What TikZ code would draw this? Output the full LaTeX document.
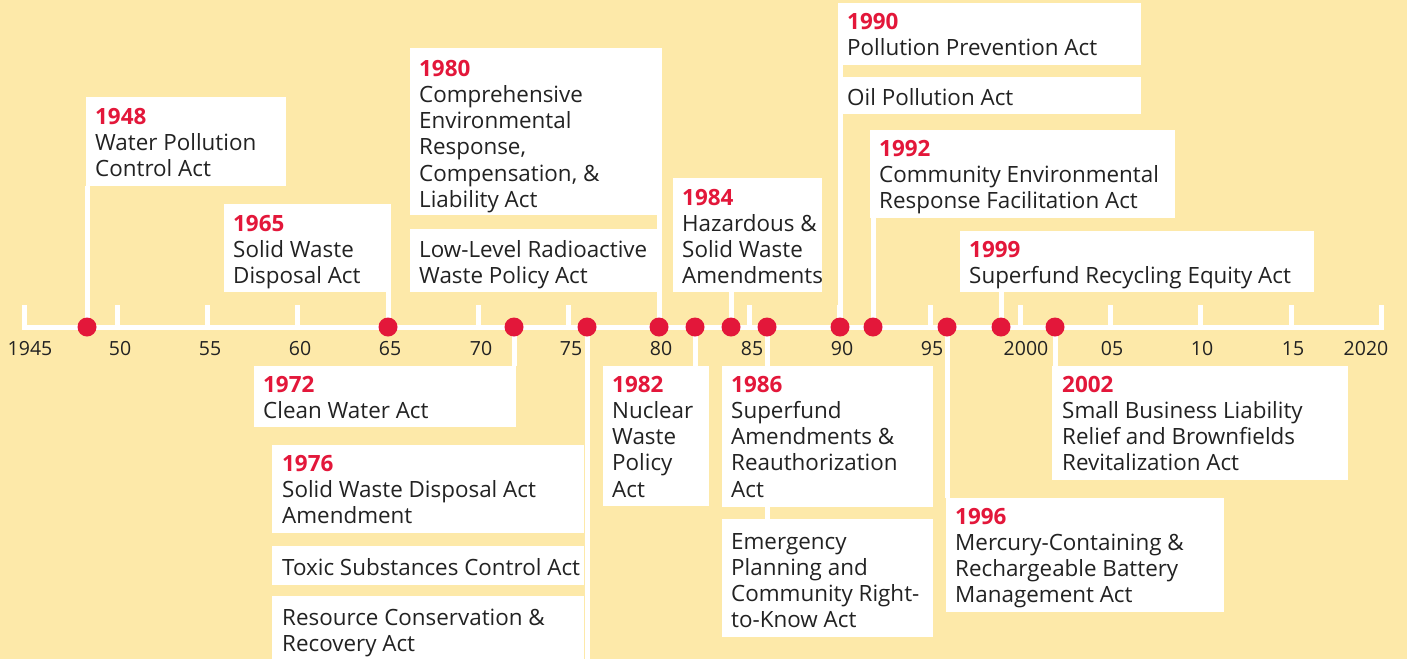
\documentclass[tikz,border=0pt]{standalone}
\usepackage{fontspec}
\setmainfont{Open Sans}
\usetikzlibrary{calc}
\definecolor{bgyel}{HTML}{FDE9A9}
\definecolor{evred}{HTML}{E3173A}
\definecolor{txtc}{HTML}{222222}
\newcommand\yr[1]{{\color{evred}\bfseries #1}}
\newcommand\lns[1]{\parbox[t]{380pt}{\raggedright\leavevmode #1}}
\pgfdeclarelayer{bglayer}
\pgfdeclarelayer{linelayer}
\pgfsetlayers{bglayer,linelayer,main}
\tikzset{
  wbox/.style={fill=white, draw=none, inner sep=0, anchor=north west},
  txt/.style={inner sep=0, anchor=base west, text=txtc, font=\fontsize{22.4}{26.3}\selectfont},
  dot/.style={circle, fill=evred, minimum size=19pt, inner sep=0},
  conn/.style={white, line width=5pt},
  axisln/.style={white, line width=5pt},
  tlab/.style={inner sep=0, text=txtc, font=\fontsize{19.5}{21}\selectfont},
}
\begin{document}
\begin{tikzpicture}[x=1pt,y=-1pt]
\begin{pgfonlayer}{bglayer}
\fill[bgyel] (0,0) rectangle (1407,659);
\end{pgfonlayer}
\useasboundingbox (0,0) rectangle (1407,659);

% boxes
\node[wbox, minimum width=200pt, minimum height=89pt] (b1948) at (86,97) {};
\node[wbox, minimum width=167pt, minimum height=88pt] (b1965) at (224,204) {};
\node[wbox, minimum width=252pt, minimum height=167pt] (b1980) at (410,48) {};
\node[wbox, minimum width=252pt, minimum height=63pt] (bllr) at (410,229) {};
\node[wbox, minimum width=149pt, minimum height=114pt] (b1984) at (673,178) {};
\node[wbox, minimum width=303pt, minimum height=62pt] (b1990) at (838,3) {};
\node[wbox, minimum width=303pt, minimum height=37pt] (boil) at (838,77) {};
\node[wbox, minimum width=305pt, minimum height=88pt] (b1992) at (870,130) {};
\node[wbox, minimum width=354pt, minimum height=61pt] (b1999) at (960,231) {};
\node[wbox, minimum width=262pt, minimum height=61pt] (b1972) at (254,366) {};
\node[wbox, minimum width=312pt, minimum height=88pt] (b1976) at (272,445) {};
\node[wbox, minimum width=312pt, minimum height=39pt] (btox) at (272,546) {};
\node[wbox, minimum width=312pt, minimum height=80pt] (bres) at (272,596) {};
\node[wbox, minimum width=106pt, minimum height=140pt] (b1982) at (603,366) {};
\node[wbox, minimum width=211pt, minimum height=141pt] (b1986) at (722,366) {};
\node[wbox, minimum width=211pt, minimum height=118pt] (beme) at (722,519) {};
\node[wbox, minimum width=278pt, minimum height=114pt] (b1996) at (946,498) {};
\node[wbox, minimum width=296pt, minimum height=114pt] (b2002) at (1052,366) {};

% texts
\node[txt] (t1948) at (95,124) {\lns{\yr{1948}\\Water Pollution\\Control Act}};
\node[txt] (t1965) at (233,231) {\lns{\yr{1965}\\Solid Waste\\Disposal Act}};
\node[txt] (t1980) at (419,76) {\lns{\yr{1980}\\Comprehensive\\Environmental\\Response,\\Compensation, \&\\Liability Act}};
\node[txt] (tllr) at (419,257) {\lns{Low-Level Radioactive\\Waste Policy Act}};
\node[txt] (t1984) at (682,205) {\lns{\yr{1984}\\Hazardous \&\\Solid Waste\\Amendments}};
\node[txt] (t1990) at (847,29) {\lns{\yr{1990}\\Pollution Prevention Act}};
\node[txt] (toil) at (847,105) {\lns{Oil Pollution Act}};
\node[txt] (t1992) at (879,156) {\lns{\yr{1992}\\Community Environmental\\Response Facilitation Act}};
\node[txt] (t1999) at (969,257) {\lns{\yr{1999}\\Superfund Recycling Equity Act}};
\node[txt] (t1972) at (263,392) {\lns{\yr{1972}\\Clean Water Act}};
\node[txt] (t1976) at (282,471) {\lns{\yr{1976}\\Solid Waste Disposal Act\\Amendment}};
\node[txt] (ttox) at (282,575) {\lns{Toxic Substances Control Act}};
\node[txt] (tres) at (282,625) {\lns{Resource Conservation \&\\Recovery Act}};
\node[txt] (t1982) at (612,392) {\lns{\yr{1982}\\Nuclear\\Waste\\Policy\\Act}};
\node[txt] (t1986) at (731,392) {\lns{\yr{1986}\\Superfund\\Amendments \&\\Reauthorization\\Act}};
\node[txt] (teme) at (731,549) {\lns{Emergency\\Planning and\\Community Right-\\to-Know Act}};
\node[txt] (t1996) at (955,524) {\lns{\yr{1996}\\Mercury-Containing \&\\Rechargeable Battery\\Management Act}};
\node[txt] (t2002) at (1062,392) {\lns{\yr{2002}\\Small Business Liability\\Relief and Brownfields\\Revitalization Act}};

% axis
\begin{pgfonlayer}{linelayer}
\draw[axisln] (22,327) -- (1383.5,327);
\foreach \x in {24.5,117,207,297,388,478,568,659,749,839,930,1020,1110,1200,1291,1381}
  \draw[axisln] (\x,329) -- (\x,305);
\end{pgfonlayer}

% tick labels
\foreach \x/\l in {30/1945,120/50,210/55,300/60,390/65,481/70,571/75,661/80,752/85,842/90,932/95,1026/2000,1112/05,1202/10,1293/15,1366/2020}
  \node[tlab] (lab\l) at (\x,349) {\l};

% dots
\node[dot] (d1948) at (87,327) {};
\node[dot] (d1965) at (388,327) {};
\node[dot] (d1972) at (514,327) {};
\node[dot] (d1976) at (587,327) {};
\node[dot] (d1980) at (659,327) {};
\node[dot] (d1982) at (695,327) {};
\node[dot] (d1984) at (731,327) {};
\node[dot] (d1986) at (767,327) {};
\node[dot] (d1990) at (840,327) {};
\node[dot] (d1992) at (873,327) {};
\node[dot] (d1996) at (947,327) {};
\node[dot] (d1999) at (1001,327) {};
\node[dot] (d2002) at (1055,327) {};

% connectors
\begin{pgfonlayer}{linelayer}
\draw[conn] (d1948.center) -- (d1948.center |- b1948.south);
\draw[conn] (d1965.center) -- (d1965.center |- b1965.south);
\draw[conn] (d1972.center) -- (d1972.center |- b1972.north);
\draw[conn] (d1976.center) -- (d1976.center |- bres.south);
\draw[conn] (d1980.center) -- (d1980.center |- b1980.south);
\draw[conn] (d1982.center) -- (d1982.center |- b1982.north);
\draw[conn] (d1984.center) -- (d1984.center |- b1984.south);
\draw[conn] (d1986.center) -- (d1986.center |- beme.north);
\draw[conn] (d1990.center) -- (d1990.center |- b1990.south);
\draw[conn] (d1992.center) -- (d1992.center |- b1992.south);
\draw[conn] (d1996.center) -- (d1996.center |- b1996.north);
\draw[conn] (d1999.center) -- (d1999.center |- b1999.south);
\draw[conn] (d2002.center) -- (d2002.center |- b2002.north);
\end{pgfonlayer}
\end{tikzpicture}
\end{document}
